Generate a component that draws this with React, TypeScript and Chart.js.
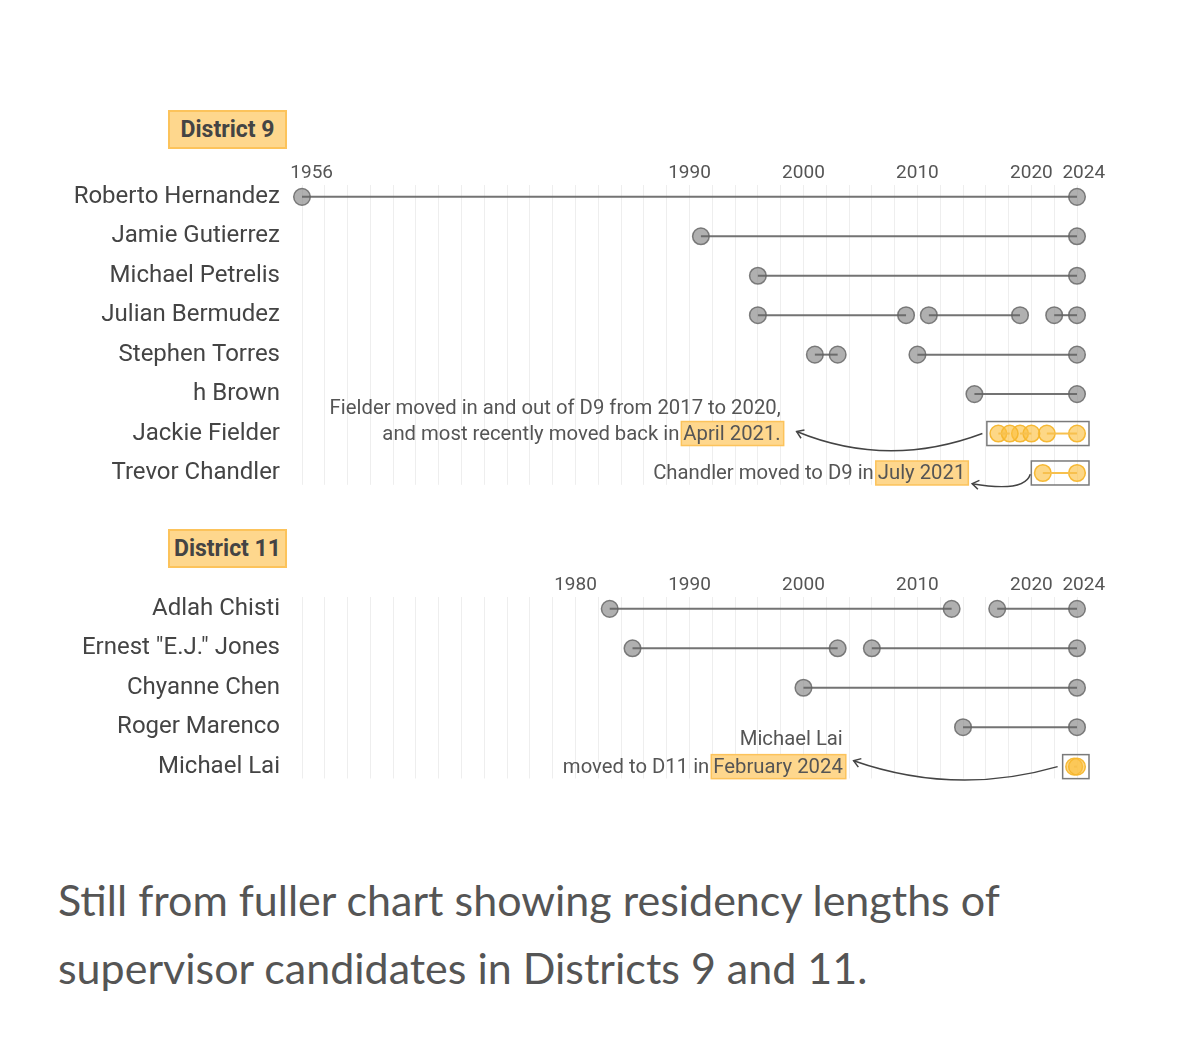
import React, { useEffect, useRef } from 'react';
import { Chart, registerables } from 'chart.js';

Chart.register(...registerables);

// ---------- data ----------
const X_MIN = 1956;
const X_MAX = 2024;
const GRID_STEP = 2;

const d9Names = [
  'Roberto Hernandez',
  'Jamie Gutierrez',
  'Michael Petrelis',
  'Julian Bermudez',
  'Stephen Torres',
  'h Brown',
  'Jackie Fielder',
  'Trevor Chandler',
];
const d9Spans: number[][][] = [
  [[1956, 2024]],
  [[1991, 2024]],
  [[1996, 2024]],
  [[1996, 2009], [2011, 2019], [2022, 2024]],
  [[2001, 2003], [2010, 2024]],
  [[2015, 2024]],
  [[2017.1, 2018.1], [2019, 2020], [2021.35, 2024]],
  [[2021, 2024]],
];
const d9Highlighted = [6, 7];
const d9TickYears = [1956, 1990, 2000, 2010, 2020, 2024];

const d11Names = [
  'Adlah Chisti',
  'Ernest "E.J." Jones',
  'Chyanne Chen',
  'Roger Marenco',
  'Michael Lai',
];
const d11Spans: number[][][] = [
  [[1983, 2013], [2017, 2024]],
  [[1985, 2003], [2006, 2024]],
  [[2000, 2024]],
  [[2014, 2024]],
  [[2023.75, 2024]],
];
const d11Highlighted = [4];
const d11TickYears = [1980, 1990, 2000, 2010, 2020, 2024];

type NoteLine = { plain: string; hl?: string; row: number };
type Note = {
  rightYear: number;
  lines: NoteLine[];
  arrow: { from: number[]; ctrl: number[]; to: number[] };
};

const d9Notes: Note[] = [
  {
    rightYear: 1998,
    lines: [
      { plain: 'Fielder moved in and out of D9 from 2017 to 2020,', row: 5.34 },
      { plain: 'and most recently moved back in', hl: 'April 2021.', row: 6 },
    ],
    arrow: { from: [2015.7, 6], ctrl: [2007.4, 6.9], to: [1999.4, 5.95] },
  },
  {
    rightYear: 2014.2,
    lines: [{ plain: 'Chandler moved to D9 in', hl: 'July 2021', row: 7 }],
    arrow: { from: [2019.9, 7.03], ctrl: [2019.4, 7.5], to: [2014.8, 7.27] },
  },
];

const d11Notes: Note[] = [
  {
    rightYear: 2003.45,
    lines: [
      { plain: 'Michael Lai', row: 3.3 },
      { plain: 'moved to D11 in', hl: 'February 2024', row: 4 },
    ],
    arrow: { from: [2022.3, 4.0], ctrl: [2013.3, 4.75], to: [2004.4, 3.85] },
  },
];

// ---------- styles ----------
const FONT = 'Roboto';
const GREY_FILL = 'rgba(128,128,128,0.62)';
const GREY_BORDER = 'rgba(105,105,105,0.85)';
const GREY_LINE = 'rgba(100,100,100,0.9)';
const YEL_FILL = 'rgba(252,190,60,0.62)';
const YEL_BORDER = 'rgba(246,182,45,0.95)';
const YEL_LINE = '#f7c04e';
const HL_FILL = '#fed78d';
const HL_BORDER = '#fcc35b';
const AXIS_H = 35;
const ROW_H = 39.45;

// label nudges (leading spaces) so end labels sit like the original
const labelPad: Record<number, string> = { 1956: '\u2002\u2002', 2024: '\u2002\u2009' };

type Cfg = {
  names: string[];
  spans: number[][][];
  highlighted: number[];
  tickYears: number[];
  notes: Note[];
  height: number;
};

function buildChart(canvas: HTMLCanvasElement, cfg: Cfg) {
  const { names, spans, highlighted, tickYears, notes } = cfg;
  const areaH = (names.length - 1 + 0.6) * ROW_H;
  const bottomPad = cfg.height - AXIS_H - areaH;

  const datasets: any[] = [];
  spans.forEach((segs, row) => {
    const yellow = highlighted.includes(row);
    segs.forEach(([a, b]) => {
      const data = [
        { x: a, y: row },
        { x: b, y: row },
      ];
      datasets.push({
        data,
        clip: false,
        showLine: false,
        pointRadius: 8.3,
        pointHoverRadius: 8.3,
        pointBackgroundColor: yellow ? YEL_FILL : GREY_FILL,
        pointBorderColor: yellow ? YEL_BORDER : GREY_BORDER,
        pointBorderWidth: 1.5,
        order: 2,
      });
      datasets.push({
        data,
        clip: false,
        showLine: true,
        borderColor: yellow ? YEL_LINE : GREY_LINE,
        borderWidth: 2,
        pointRadius: 0,
        pointHoverRadius: 0,
        order: 1,
      });
    });
  });

  const notesPlugin = {
    id: 'notes',
    afterDatasetsDraw(chart: any) {
      const ctx = chart.ctx;
      const xs = chart.scales.x;
      const ys = chart.scales.y;
      ctx.save();
      ctx.strokeStyle = '#7a7a7a';
      ctx.lineWidth = 1.5;
      highlighted.forEach((row) => {
        const first = spans[row][0][0];
        const last = spans[row][spans[row].length - 1][1];
        const l = xs.getPixelForValue(first) - 11.5;
        const r = xs.getPixelForValue(last) + 12;
        const yc = ys.getPixelForValue(row);
        ctx.strokeRect(l, yc - 12, r - l, 24);
      });
      ctx.restore();
    },
    afterDraw(chart: any) {
      const ctx = chart.ctx;
      const xs = chart.scales.x;
      const ys = chart.scales.y;
      ctx.save();
      ctx.font = `20.3px ${FONT}`;
      ctx.textBaseline = 'middle';
      ctx.textAlign = 'right';
      notes.forEach((n) => {
        const right = xs.getPixelForValue(n.rightYear);
        n.lines.forEach((ln) => {
          const y = ys.getPixelForValue(ln.row);
          if (ln.hl) {
            const w = ctx.measureText(ln.hl).width;
            const bx = right - w - 2;
            ctx.fillStyle = HL_FILL;
            ctx.fillRect(bx, y - 12, w + 5, 24);
            ctx.strokeStyle = HL_BORDER;
            ctx.lineWidth = 1.5;
            ctx.strokeRect(bx, y - 12, w + 5, 24);
            ctx.fillStyle = '#555';
            ctx.fillText(ln.hl, right, y + 1);
            ctx.fillText(ln.plain, bx - 2, y + 1);
          } else {
            ctx.fillStyle = '#555';
            ctx.fillText(ln.plain, right, y + 1);
          }
        });
        // arrow
        const fx = xs.getPixelForValue(n.arrow.from[0]);
        const fy = ys.getPixelForValue(n.arrow.from[1]);
        const cx = xs.getPixelForValue(n.arrow.ctrl[0]);
        const cy = ys.getPixelForValue(n.arrow.ctrl[1]);
        const tx = xs.getPixelForValue(n.arrow.to[0]);
        const ty = ys.getPixelForValue(n.arrow.to[1]);
        ctx.strokeStyle = '#444';
        ctx.lineWidth = 1.5;
        ctx.beginPath();
        ctx.moveTo(fx, fy);
        ctx.quadraticCurveTo(cx, cy, tx, ty);
        ctx.stroke();
        const ang = Math.atan2(ty - cy, tx - cx);
        const len = 8;
        ctx.beginPath();
        ctx.moveTo(tx - len * Math.cos(ang - 0.6), ty - len * Math.sin(ang - 0.6));
        ctx.lineTo(tx, ty);
        ctx.lineTo(tx - len * Math.cos(ang + 0.6), ty - len * Math.sin(ang + 0.6));
        ctx.stroke();
      });
      ctx.restore();
    },
  };

  return new Chart(canvas, {
    type: 'line',
    data: { datasets },
    options: {
      responsive: false,
      animation: false,
      events: [],
      layout: { padding: { left: 0, right: 1179 - 1077, top: 0, bottom: bottomPad } },
      plugins: { legend: { display: false }, tooltip: { enabled: false } },
      scales: {
        x: {
          type: 'linear',
          position: 'top',
          min: X_MIN,
          max: X_MAX,
          afterBuildTicks: (s: any) => {
            const t: any[] = [];
            for (let v = X_MIN; v <= X_MAX; v += GRID_STEP) t.push({ value: v });
            s.ticks = t;
          },
          afterFit: (s: any) => {
            s.height = AXIS_H;
            s.paddingLeft = 0;
            s.paddingRight = 0;
          },
          ticks: {
            autoSkip: false,
            maxRotation: 0,
            padding: 0,
            color: '#555',
            font: { family: FONT, size: 19 },
            callback: (v: any) =>
              tickYears.includes(Number(v)) ? (labelPad[Number(v)] || '') + String(v) : '',
          },
          grid: { color: '#eeeeee', lineWidth: 1, drawTicks: false },
          border: { display: false },
        },
        y: {
          type: 'linear',
          min: -0.3,
          max: names.length - 1 + 0.3,
          reverse: true,
          afterBuildTicks: (s: any) => {
            s.ticks = names.map((_, i) => ({ value: i }));
          },
          afterFit: (s: any) => {
            s.width = 302;
            s.paddingTop = 0;
            s.paddingBottom = 0;
          },
          ticks: {
            autoSkip: false,
            padding: 22,
            color: '#444',
            font: { family: FONT, size: 24 },
            callback: (v: any) => names[Number(v)] ?? '',
          },
          grid: { display: false, drawTicks: false },
          border: { display: false },
        },
      },
    } as any,
    plugins: [notesPlugin],
  });
}

const D9_H = 360;
const D11_H = 250;

function Header({ text, top }: { text: string; top: number }) {
  return (
    <div
      style={{
        position: 'absolute',
        left: 168,
        top,
        width: 119,
        height: 39,
        boxSizing: 'border-box',
        background: HL_FILL,
        border: `2px solid ${HL_BORDER}`,
        fontFamily: FONT,
        fontWeight: 700,
        fontSize: 23,
        color: '#444',
        display: 'flex',
        alignItems: 'center',
        justifyContent: 'center',
      }}
    >
      {text}
    </div>
  );
}

export default function App() {
  const ref9 = useRef<HTMLCanvasElement>(null);
  const ref11 = useRef<HTMLCanvasElement>(null);

  useEffect(() => {
    const c9 = buildChart(ref9.current!, {
      names: d9Names,
      spans: d9Spans,
      highlighted: d9Highlighted,
      tickYears: d9TickYears,
      notes: d9Notes,
      height: D9_H,
    });
    const c11 = buildChart(ref11.current!, {
      names: d11Names,
      spans: d11Spans,
      highlighted: d11Highlighted,
      tickYears: d11TickYears,
      notes: d11Notes,
      height: D11_H,
    });
    return () => {
      c9.destroy();
      c11.destroy();
    };
  }, []);

  return (
    <div
      style={{
        position: 'absolute',
        left: 0,
        top: 0,
        width: 1179,
        height: 1049,
        background: '#fff',
        overflow: 'hidden',
      }}
    >
      <Header text="District 9" top={110} />
      <canvas
        ref={ref9}
        width={1179}
        height={D9_H}
        style={{ position: 'absolute', left: 0, top: 150, width: 1179, height: D9_H }}
      />
      <Header text="District 11" top={529} />
      <canvas
        ref={ref11}
        width={1179}
        height={D11_H}
        style={{ position: 'absolute', left: 0, top: 562, width: 1179, height: D11_H }}
      />
      <div
        style={{
          position: 'absolute',
          left: 58,
          top: 866,
          width: 1100,
          fontFamily: 'Lato',
          fontSize: 43,
          lineHeight: '68px',
          color: '#555',
        }}
      >
        Still from fuller chart showing residency lengths of
        <br />
        supervisor candidates in Districts 9 and 11.
      </div>
    </div>
  );
}
